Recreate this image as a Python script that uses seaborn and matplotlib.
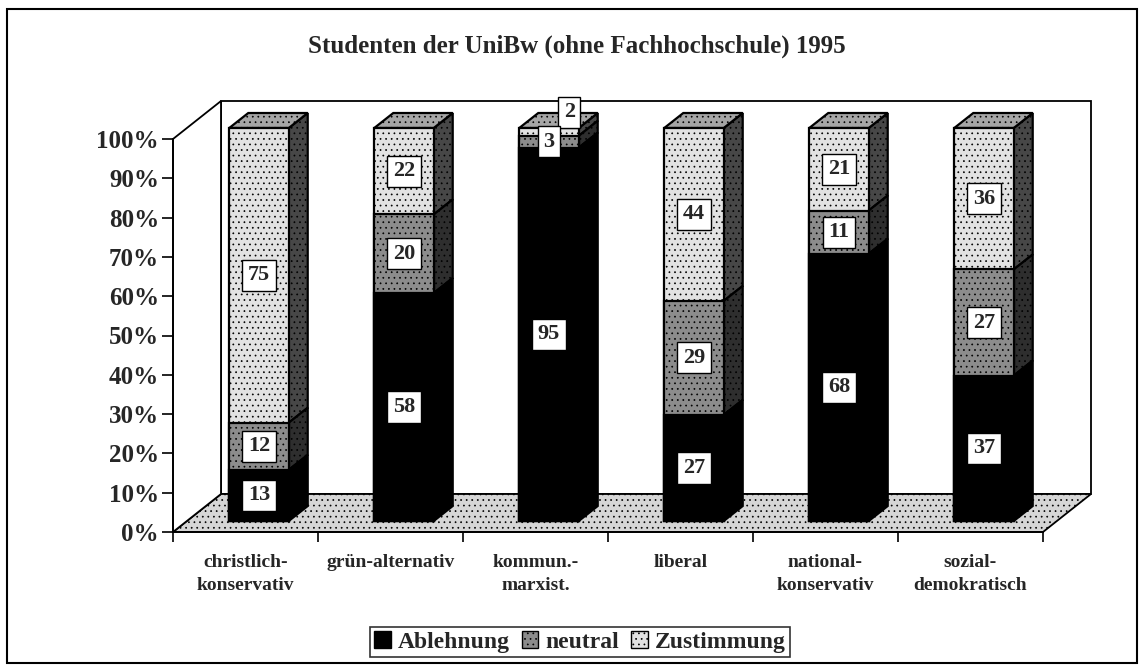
import matplotlib
matplotlib.use('Agg')
import matplotlib.pyplot as plt
import seaborn as sns
import pandas as pd
from matplotlib.patches import Polygon, Rectangle, Patch

# ---------- Data ----------
categories = ['christlich-\nkonservativ', 'grün-alternativ', 'kommun.-\nmarxist.',
              'liberal', 'national-\nkonservativ', 'sozial-\ndemokratisch']
ablehnung = [13, 58, 95, 27, 68, 37]
neutral = [12, 20, 3, 29, 11, 27]
zustimmung = [75, 22, 2, 44, 21, 36]
series_names = ['Ablehnung', 'neutral', 'Zustimmung']
y_ticks = list(range(0, 101, 10))
title = 'Studenten der UniBw (ohne Fachhochschule) 1995'

df = pd.DataFrame({'kategorie': categories, 'Ablehnung': ablehnung,
                   'neutral': neutral, 'Zustimmung': zustimmung})
df['bis_neutral'] = df['Ablehnung'] + df['neutral']
df['bis_zustimmung'] = df['bis_neutral'] + df['Zustimmung']

# ---------- Style ----------
sns.set_theme(style='white')
plt.rcParams['font.family'] = ['Liberation Serif', 'DejaVu Serif']
plt.rcParams['font.weight'] = 'bold'
plt.rcParams['hatch.linewidth'] = 0.5

front_col = {'Ablehnung': '#000000', 'neutral': '#8c8c8c', 'Zustimmung': '#e2e2e2'}
side_col = {'Ablehnung': '#000000', 'neutral': '#2e2e2e', 'Zustimmung': '#474747'}
top_col = '#a6a6a6'

W, H = 1142, 668
fig = plt.figure(figsize=(W / 100, H / 100), dpi=100)


def fx(px):
    return px / W


def fy(py):
    return 1 - py / H


# front plane of the 3D box (pixels)
left_px, right_px, bottom_px, top_px = 173, 1043, 532, 139
rect = [fx(left_px), fy(bottom_px), fx(right_px) - fx(left_px), fy(top_px) - fy(bottom_px)]
ax = fig.add_axes(rect)
ax.set_xlim(-0.5, 5.5)
ax.set_ylim(0, 100)

# depth of walls / bars in data units
cat_px = (right_px - left_px) / 6
pct_px = (bottom_px - top_px) / 100
wall_dx, wall_dy = 48 / cat_px, 38 / pct_px
bar_dx, bar_dy = 19 / cat_px, 15 / pct_px

# back wall, floor, left wall
x0, x1 = -0.5, 5.5
ax.add_patch(Polygon([(x0 + wall_dx, wall_dy), (x1 + wall_dx, wall_dy),
                      (x1 + wall_dx, 100 + wall_dy), (x0 + wall_dx, 100 + wall_dy)],
                     closed=True, facecolor='white', edgecolor='black', lw=1.3,
                     clip_on=False, zorder=1))
ax.add_patch(Polygon([(x0, 0), (x1, 0), (x1 + wall_dx, wall_dy), (x0 + wall_dx, wall_dy)],
                     closed=True, facecolor='#d6d6d6', edgecolor='black', lw=1.3,
                     hatch='...', clip_on=False, zorder=2))
ax.add_patch(Polygon([(x0, 0), (x0, 100), (x0 + wall_dx, 100 + wall_dy), (x0 + wall_dx, wall_dy)],
                     closed=True, facecolor='white', edgecolor='black', lw=1.3,
                     clip_on=False, zorder=2))

ax.set_yticks(y_ticks)
ax.set_yticklabels([f'{v}%' for v in y_ticks], fontsize=18, fontweight='bold')
ax.set_xticks(range(len(categories)))
ax.set_xticklabels(categories, fontsize=14, fontweight='bold', linespacing=1.45)
ax.set_xticks([i - 0.5 for i in range(len(categories) + 1)], minor=True)
ax.tick_params(axis='y', left=True, length=8, width=1.2, color='black', pad=2)
ax.tick_params(axis='x', which='major', bottom=True, length=0, pad=16)
ax.tick_params(axis='x', which='minor', bottom=True, length=7, width=1.2, color='black')
for s in ['top', 'right']:
    ax.spines[s].set_visible(False)
for s in ['left', 'bottom']:
    ax.spines[s].set_color('black')
    ax.spines[s].set_linewidth(1.3)
    ax.spines[s].set_zorder(3)
ax.patch.set_alpha(0)

# ---------- Bars (front faces drawn by seaborn, shifted into the box) ----------
shift_x, shift_y = 13.5, 11
axb = fig.add_axes([rect[0] + shift_x / W, rect[1] + shift_y / H, rect[2], rect[3]])

layers = [('bis_zustimmung', 'Zustimmung', 'bis_neutral'),
          ('bis_neutral', 'neutral', 'Ablehnung'),
          ('Ablehnung', 'Ablehnung', None)]
for col, name, below in layers:
    n_before = len(axb.patches)
    sns.barplot(data=df, x='kategorie', y=col, color=front_col[name], saturation=1,
                width=0.41, edgecolor='black', linewidth=1.6, errorbar=None, ax=axb,
                hatch='...' if name != 'Ablehnung' else None)
    bars = axb.patches[n_before:]
    for i, p in enumerate(bars):
        p.set_zorder(3)
        xl = p.get_x()
        xr = xl + p.get_width()
        y1 = p.get_height()
        y0 = df[below].iloc[i] if below else 0
        # side face
        axb.add_patch(Polygon([(xr, y0), (xr + bar_dx, y0 + bar_dy),
                               (xr + bar_dx, y1 + bar_dy), (xr, y1)],
                              closed=True, facecolor=side_col[name], edgecolor='black',
                              lw=1.6, hatch='...' if name != 'Ablehnung' else None,
                              clip_on=False, zorder=2))
        if name == 'Zustimmung':
            axb.add_patch(Polygon([(xl, y1), (xl + bar_dx, y1 + bar_dy),
                                   (xr + bar_dx, y1 + bar_dy), (xr, y1)],
                                  closed=True, facecolor=top_col, edgecolor='black',
                                  lw=1.6, hatch='...', clip_on=False, zorder=2))
        # value label
        val = df[name].iloc[i]
        cx = xl + p.get_width() / 2
        cy = (y0 + y1) / 2
        if val <= 2:
            cx, cy = cx + 0.14, y1 + 4.0
        axb.text(cx, cy, f'{val}', ha='center', va='center', fontsize=16,
                 fontweight='bold', zorder=6,
                 bbox=dict(boxstyle='square,pad=0.25', facecolor='white',
                           edgecolor='black', linewidth=1))
    for p in bars:
        p.set_clip_on(False)

axb.set_xlim(-0.5, 5.5)
axb.set_ylim(0, 100)
axb.set_axis_off()

# ---------- Title, legend, border ----------
fig.text(fx(577), fy(46), title, ha='center', va='center', fontsize=18, fontweight='bold')

handles = [Patch(facecolor=front_col[n], edgecolor='black', lw=1,
                 hatch='...' if n != 'Ablehnung' else None) for n in series_names]
leg = fig.legend(handles, series_names, loc='center', bbox_to_anchor=(fx(580), fy(642)),
                 ncol=3, frameon=True, fancybox=False, edgecolor='black',
                 prop={'size': 17, 'weight': 'bold'}, handlelength=0.7, handleheight=0.7,
                 handletextpad=0.3, columnspacing=0.5, borderpad=0.2)
leg.get_frame().set_linewidth(1.2)

fig.add_artist(Rectangle((fx(7), fy(663)), fx(1137) - fx(7), fy(9) - fy(663),
                         transform=fig.transFigure, fill=False, edgecolor='black', lw=1.5))

fig.savefig('out.png', dpi=100)
